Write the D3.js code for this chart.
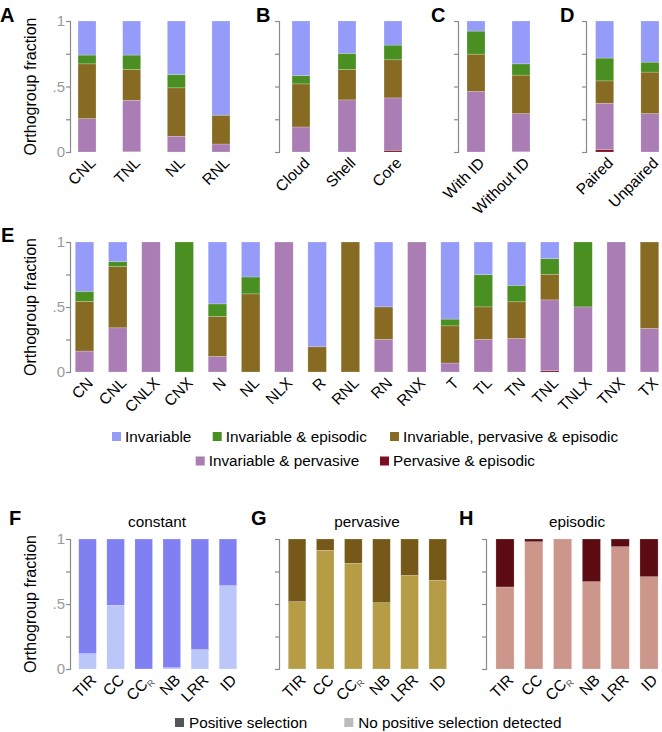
<!DOCTYPE html>
<html><head><meta charset="utf-8">
<script src="https://cdn.jsdelivr.net/npm/d3@7"></script>
<style>
body{margin:0;background:#fff;}
svg{font-family:"Liberation Sans",Arial,Helvetica,sans-serif;}
</style></head>
<body><svg id="c" width="662" height="732"></svg>
<script>
// ---------- DATA ----------
const seriesNames = ["Pervasive & episodic","Invariable & pervasive","Invariable, pervasive & episodic","Invariable & episodic","Invariable"];
const seriesColors = ["#7b1020","#aa7db5","#876b22","#4a8f22","#959bf8"];
const legendOrder = [4,3,2,1,0];

const aCats = ["CNL","TNL","NL","RNL"];
const aRed    = [0, 0.003, 0, 0];
const aPurple = [0.255, 0.392, 0.12, 0.061];
const aBrown  = [0.418, 0.235, 0.37, 0.22];
const aGreen  = [0.067, 0.11, 0.102, 0];
const aBlue   = [0.26, 0.26, 0.408, 0.719];

const bCats = ["Cloud","Shell","Core"];
const bRed    = [0, 0, 0.013];
const bPurple = [0.191, 0.398, 0.40];
const bBrown  = [0.329, 0.232, 0.291];
const bGreen  = [0.064, 0.123, 0.112];
const bBlue   = [0.416, 0.247, 0.184];

const cCats = ["With ID","Without ID"];
const cRed    = [0, 0.003];
const cPurple = [0.462, 0.29];
const cBrown  = [0.285, 0.294];
const cGreen  = [0.176, 0.086];
const cBlue   = [0.077, 0.327];

const dCats = ["Paired","Unpaired"];
const dRed    = [0.018, 0];
const dPurple = [0.354, 0.293];
const dBrown  = [0.171, 0.317];
const dGreen  = [0.174, 0.076];
const dBlue   = [0.283, 0.314];

const eCats = ["CN","CNL","CNLX","CNX","N","NL","NLX","R","RNL","RN","RNX","T","TL","TN","TNL","TNLX","TNX","TX"];
const eRed    = [0,0,0,0,0,0,0,0,0,0,0,0,0,0,0.01,0,0,0];
const ePurple = [0.161,0.34,1,0,0.12,0,1,0,0,0.251,1,0.069,0.251,0.258,0.545,0.501,1,0.335];
const eBrown  = [0.381,0.471,0,0,0.307,0.601,0,0.194,1,0.25,0,0.286,0.25,0.282,0.197,0,0,0.665];
const eGreen  = [0.079,0.038,0,1,0.097,0.13,0,0,0,0,0,0.052,0.248,0.127,0.12,0.499,0,0];
const eBlue   = [0.379,0.151,0,0,0.476,0.269,0,0.806,0,0.499,0,0.593,0.251,0.333,0.128,0,0,0];

const domCats = ["TIR","CC","CC_R","NB","LRR","ID"];
const fNoPos = [0.118,0.49,0,0.01,0.149,0.641];
const fPos   = [0.882,0.51,1,0.99,0.851,0.359];
const gNoPos = [0.518,0.913,0.813,0.51,0.72,0.682];
const gPos   = [0.482,0.087,0.187,0.49,0.28,0.318];
const hNoPos = [0.631,0.979,1,0.672,0.941,0.71];
const hPos   = [0.369,0.021,0,0.328,0.059,0.29];

const selNames = ["Positive selection","No positive selection detected"];
const selLegendColors = ["#555555","#bbbbbb"];
const yTicks = [0,0.25,0.5,0.75,1];
const yTickLabels = {0:"0",0.5:".5",1:"1"};

// ---------- DRAW ----------
const svg = d3.select("#c");

function panel(o){
  const y = d3.scaleLinear().domain([0,1]).range([o.bottom,o.top]);
  const x = d3.scaleBand().domain(o.cats).range(o.xr).paddingInner(o.pad).paddingOuter(o.pad/2);
  const g = svg.append("g");
  const rows = o.cats.map((c,i)=>{const r={cat:c}; o.keys.forEach((k,j)=>r[k]=o.vals[j][i]); return r;});
  const stack = d3.stack().keys(o.keys)(rows);
  stack.forEach((layer,j)=>{
    g.selectAll(null).data(layer).enter().append("rect")
      .attr("x",d=>x(d.data.cat))
      .attr("width",x.bandwidth())
      .attr("y",d=>y(d[1]))
      .attr("height",d=>Math.max(0,y(d[0])-y(d[1])))
      .attr("fill",o.colors[j])
      .attr("stroke",d=>(d[1]-d[0])>0?"#ffffff":"none").attr("stroke-opacity",0.35).attr("stroke-width",0.6);
  });
  // axis
  const ax = d3.axisLeft(y).tickValues(yTicks).tickSize(4).tickSizeOuter(4)
    .tickFormat(d=>o.labels ? (yTickLabels[d]||"") : "");
  const ag = g.append("g").attr("transform",`translate(${o.ax},0)`).call(ax);
  ag.select(".domain").attr("stroke","#8a8a8a").attr("stroke-width",1.2);
  ag.selectAll(".tick line").attr("stroke","#8a8a8a").attr("stroke-width",1.2);
  ag.selectAll(".tick text").attr("fill","#9a9a9a").attr("font-size",15).attr("x",-5)
    .attr("font-family","Liberation Sans, Arial, sans-serif");
  // x labels
  o.cats.forEach(c=>{
    const cx = x(c)+x.bandwidth()/2 + 9.5, cy = o.bottom + 12;
    const t = g.append("text").attr("transform",`translate(${cx},${cy}) rotate(-45)`)
      .attr("text-anchor","end").attr("font-size",15.5).attr("fill","#000");
    if(c==="CC_R"){
      t.append("tspan").text("CC");
      t.append("tspan").text("R").attr("font-size",9).attr("dy",3).attr("fill","#555");
    } else t.text(c);
  });
  if(o.title){
    g.append("text").attr("x",o.title[1]).attr("y",o.top-12).attr("text-anchor","middle")
      .attr("font-size",15.3).text(o.title[0]);
  }
  if(o.ylab){
    g.append("text").attr("transform",`translate(36,${(o.top+o.bottom)/2}) rotate(-90)`)
      .attr("text-anchor","middle").attr("font-size",16).text("Orthogroup fraction");
  }
}

const K5 = ["r","p","b","g","u"];
panel({cats:aCats,keys:K5,vals:[aRed,aPurple,aBrown,aGreen,aBlue],colors:seriesColors,top:21,bottom:152,xr:[64.7,243.3],pad:0.597,ax:70,labels:true,ylab:true});
panel({cats:bCats,keys:K5,vals:[bRed,bPurple,bBrown,bGreen,bBlue],colors:seriesColors,top:21,bottom:152,xr:[278,416],pad:0.61,ax:279});
panel({cats:cCats,keys:K5,vals:[cRed,cPurple,cBrown,cGreen,cBlue],colors:seriesColors,top:21,bottom:152,xr:[453.5,543.5],pad:0.6,ax:458});
panel({cats:dCats,keys:K5,vals:[dRed,dPurple,dBrown,dGreen,dBlue],colors:seriesColors,top:21,bottom:152,xr:[582,672.6],pad:0.6,ax:586});
panel({cats:eCats,keys:K5,vals:[eRed,ePurple,eBrown,eGreen,eBlue],colors:seriesColors,top:242,bottom:372,xr:[67.9,666.1],pad:0.443,ax:70,labels:true,ylab:true});

const K2 = ["n","p"];
panel({cats:domCats,keys:K2,vals:[fNoPos,fPos],colors:["#bcc7f9","#8080f2"],top:539,bottom:669,xr:[73.5,242],pad:0.374,ax:70,labels:true,ylab:true,title:["constant",157]});
panel({cats:domCats,keys:K2,vals:[gNoPos,gPos],colors:["#b59c45","#765918"],top:539,bottom:669,xr:[283,451.8],pad:0.374,ax:279,title:["pervasive",367]});
panel({cats:domCats,keys:K2,vals:[hNoPos,hPos],colors:["#cc968a","#5c0b12"],top:539,bottom:669,xr:[490.6,663.4],pad:0.37,ax:486,title:["episodic",577]});

// panel letters
[["A",0,22],["B",256,22],["C",431,22],["D",560,22],["E",1,242],["F",9,525],["G",251,525],["H",459,525]].forEach(p=>{
  svg.append("text").attr("x",p[1]).attr("y",p[2]).attr("font-size",20).attr("font-weight","bold").text(p[0]);
});

// legend 1
const legPos = [[112,436.5],[212.7,436.5],[390,436.5],[195.7,461],[380,461]];
legendOrder.forEach((si,i)=>{
  const [lx,ly] = legPos[i];
  svg.append("rect").attr("x",lx).attr("y",ly-4.5).attr("width",9).attr("height",9).attr("fill",seriesColors[si]);
  svg.append("text").attr("x",lx+13).attr("y",ly+5.3).attr("font-size",15.3).text(seriesNames[si]);
});
// legend 2
[[175,722.5],[344.3,722.5]].forEach((p,i)=>{
  svg.append("rect").attr("x",p[0]).attr("y",p[1]-4.5).attr("width",9).attr("height",9).attr("fill",selLegendColors[i]);
  svg.append("text").attr("x",p[0]+14).attr("y",p[1]+5.3).attr("font-size",15.3).text(selNames[i]);
});
</script></body></html>
